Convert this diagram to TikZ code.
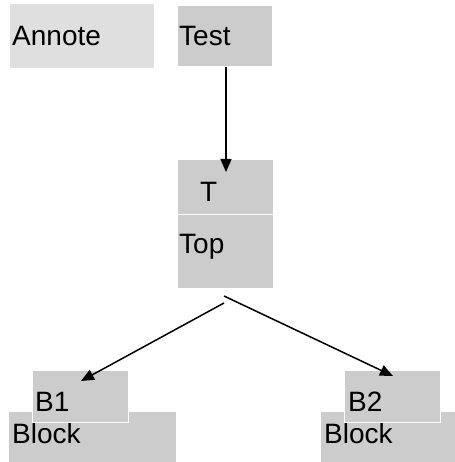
\documentclass[tikz,border=0pt]{standalone}
\usepackage{fontspec}
\setmainfont{Liberation Sans}
\usetikzlibrary{arrows.meta}
\definecolor{boxgray}{HTML}{CCCCCC}
\definecolor{notegray}{HTML}{DFDFDF}
\tikzset{%
   box/.style={
      rectangle,
      anchor=north west,
      inner sep=0mm,
      outer sep=0mm,
      fill=boxgray,
      draw=white,
      line width=1pt
   },
   lbl/.style={
      anchor=base west,
      inner sep=0mm,
      font=\fontsize{28}{33}\selectfont
   },
   arr/.style={
      -{Triangle[length=13pt, width=11pt]},
      line width=1.5pt
   },
}
\begin{document}
\begin{tikzpicture}[x=1pt, y=-1pt]
      \useasboundingbox (0,0) rectangle (454,462);
      % top row
      \node[box, fill=notegray, draw=notegray, minimum width=143pt, minimum height=63pt] (annote) at (10,5) {};
      \node[lbl] (annotelbl) at (12,46) {Annote};
      \node[box, minimum width=95pt, minimum height=61pt] (test) at (177,6) {};
      \node[lbl] (testlbl) at (179,46) {Test};
      % middle
      \node[box, minimum width=96pt, minimum height=54pt] (t) at (177,160) {};
      \node[lbl] (tlbl) at (200,201) {T};
      \node[box, minimum width=96pt, minimum height=74pt] (top) at (177,214) {};
      \node[lbl] (toplbl) at (179,253) {Top};
      % bottom
      \node[box, minimum width=168pt, minimum height=52pt] (blockl) at (8,411) {};
      \node[lbl] (blockllbl) at (12,443) {Block};
      \node[box, minimum width=96pt, minimum height=52pt] (b1) at (32,370) {};
      \node[lbl] (b1lbl) at (35,411) {B1};
      \node[box, minimum width=135pt, minimum height=52pt] (blockr) at (320,411) {};
      \node[lbl] (blockrlbl) at (324,443) {Block};
      \node[box, minimum width=96pt, minimum height=52pt] (b2) at (344,370) {};
      \node[lbl] (b2lbl) at (348,411) {B2};
      % connectors
      \coordinate (tin) at (226,172);
      \coordinate (topl) at (224,303);
      \coordinate (topr) at (224,296);
      \coordinate (b1in) at (81,381);
      \coordinate (b2in) at (393,376);
      \draw[arr] (test.south -| tin) -- (tin);
      \draw[arr] (topl) -- (b1in);
      \draw[arr] (topr) -- (b2in);
\end{tikzpicture}
\end{document}
